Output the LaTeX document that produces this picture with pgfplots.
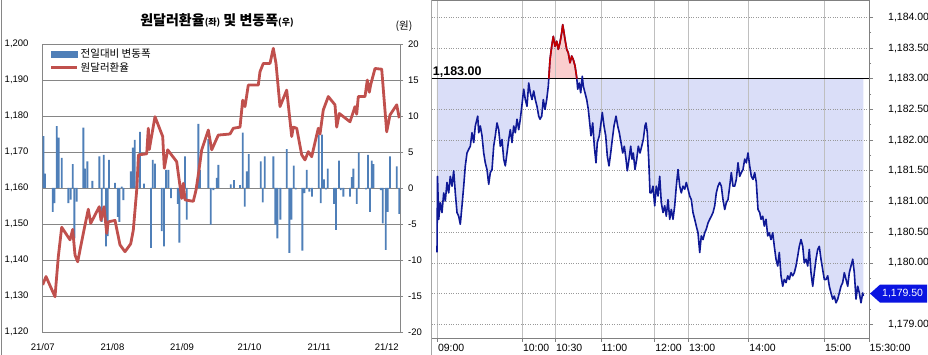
\documentclass[border=0pt]{standalone}
\usepackage{fontspec}
\setmainfont{Liberation Sans}
\newfontfamily\kr{Noto Sans CJK KR}
\usepackage{pgfplots}
\pgfplotsset{compat=1.18}
\usepackage{pgfplotstable}
\definecolor{barblue}{RGB}{79,127,184}
\definecolor{redline}{RGB}{192,80,77}
\definecolor{lav}{RGB}{218,222,248}
\definecolor{pinkf}{RGB}{250,206,206}
\definecolor{navy}{RGB}{15,25,150}
\definecolor{redi}{RGB}{195,0,0}
\definecolor{tagblue}{RGB}{10,20,225}
\definecolor{gridg}{RGB}{134,134,134}

% first and last rows are the 1,183.00 reference level (closing the shaded area)
\pgfplotstableread{
x y
436.9 1183
437.0 1180.17
437.5 1181.41
438.7 1180.71
440.3 1180.98
442.0 1180.82
443.7 1181.14
445.3 1181.01
447.0 1181.31
448.7 1181.14
450.3 1181.41
452.0 1181.25
453.7 1181.50
455.3 1181.14
457.0 1180.82
458.7 1180.76
460.3 1180.63
462.0 1180.93
463.7 1181.25
465.3 1181.58
467.0 1181.79
468.7 1181.85
470.3 1181.90
472.0 1182.12
473.7 1181.96
475.3 1182.23
477.7 1182.39
478.7 1182.12
480.3 1182.23
482.0 1182.07
483.7 1181.79
485.3 1181.63
487.0 1181.52
488.7 1181.28
490.3 1181.47
492.0 1181.52
493.7 1181.90
495.3 1182.07
497.0 1182.28
498.7 1182.17
500.3 1181.90
502.0 1182.01
503.7 1181.69
505.3 1181.58
507.0 1181.79
508.7 1182.01
510.3 1182.17
512.0 1181.96
513.7 1182.23
515.3 1182.12
517.0 1182.34
518.7 1182.17
520.3 1182.34
522.0 1182.58
523.7 1182.83
525.3 1182.66
527.0 1182.55
528.7 1182.93
530.3 1182.77
532.0 1182.66
533.7 1182.80
535.3 1182.66
537.0 1182.55
538.7 1182.39
540.0 1182.34
541.7 1182.39
543.3 1182.66
545.0 1182.50
546.7 1182.66
548.3 1182.88
550.0 1183.31
551.7 1183.53
553.3 1183.69
555.0 1183.53
556.7 1183.61
558.3 1183.48
560.0 1183.59
561.7 1183.75
562.7 1183.88
564.0 1183.75
565.0 1183.64
566.7 1183.48
568.3 1183.42
570.0 1183.26
571.7 1183.37
573.3 1183.31
575.0 1183.21
576.7 1183.02
577.7 1182.83
579.3 1182.93
580.7 1182.77
582.3 1183.04
583.3 1182.88
585.0 1182.77
586.7 1182.66
588.3 1182.50
590.0 1182.23
591.0 1182.07
592.7 1182.28
594.3 1181.90
596.0 1181.63
597.3 1181.96
599.3 1182.07
601.0 1182.28
602.3 1182.45
604.0 1182.23
605.7 1182.07
607.3 1181.74
609.0 1181.58
610.7 1181.79
612.3 1182.01
614.0 1182.23
616.0 1182.39
617.7 1182.23
619.3 1182.12
621.0 1181.96
622.7 1181.79
624.3 1181.90
626.0 1181.69
627.3 1181.50
629.0 1181.69
630.7 1181.90
632.0 1181.69
633.3 1181.79
635.0 1181.52
636.7 1181.69
638.3 1181.90
640.0 1181.79
641.7 1181.90
643.3 1182.01
645.0 1182.23
646.0 1182.28
647.3 1182.12
648.7 1181.69
650.0 1181.14
651.3 1181.14
653.0 1181.25
654.7 1180.93
656.3 1181.25
658.0 1181.09
659.7 1181.41
661.3 1180.98
663.0 1180.82
664.7 1180.93
666.3 1180.76
668.0 1181.03
669.7 1180.71
671.3 1180.87
673.0 1180.71
674.7 1180.93
676.3 1181.25
678.0 1181.52
679.7 1181.25
681.3 1181.14
683.0 1181.25
684.7 1181.20
686.3 1181.31
688.0 1181.20
689.7 1181.09
691.3 1181.03
693.0 1180.82
694.7 1180.71
696.3 1180.60
698.0 1180.49
699.7 1180.17
701.3 1180.44
703.0 1180.38
704.7 1180.49
706.3 1180.55
708.0 1180.65
709.7 1180.71
711.3 1180.76
713.0 1180.82
714.7 1180.93
716.3 1181.14
718.0 1181.25
719.7 1181.31
721.3 1181.25
723.0 1181.03
724.7 1180.87
726.3 1180.98
728.0 1181.03
729.7 1181.25
731.3 1181.47
733.0 1181.25
734.7 1181.25
736.3 1181.36
738.0 1181.63
739.7 1181.41
741.3 1181.47
743.0 1181.52
744.7 1181.69
746.3 1181.63
748.0 1181.79
749.7 1181.58
751.3 1181.41
753.0 1181.36
754.7 1181.47
756.3 1181.31
758.0 1180.87
759.7 1180.82
761.0 1180.71
762.7 1180.76
764.3 1180.60
766.0 1180.71
767.7 1180.44
769.3 1180.49
771.0 1180.38
772.7 1180.49
774.3 1180.27
776.0 1180.06
777.7 1179.95
779.3 1180.17
781.0 1179.79
782.7 1179.62
784.3 1179.73
786.0 1179.68
787.7 1179.79
789.3 1179.73
791.0 1179.84
792.7 1179.79
794.3 1179.84
796.0 1179.95
797.7 1180.11
799.3 1180.27
801.0 1180.38
802.7 1180.27
804.3 1180.00
806.0 1180.06
807.7 1179.95
809.3 1180.22
811.0 1179.84
812.7 1179.62
814.3 1179.84
816.0 1180.06
817.7 1180.22
819.3 1180.27
821.0 1180.06
822.7 1179.89
824.3 1179.73
826.0 1179.73
827.7 1179.79
829.3 1179.62
831.0 1179.51
832.7 1179.41
834.3 1179.46
836.0 1179.35
837.7 1179.41
839.3 1179.51
841.0 1179.62
842.7 1179.68
844.3 1179.84
846.0 1179.73
847.7 1179.62
849.3 1179.84
851.0 1179.95
852.7 1180.06
854.3 1179.84
856.0 1179.41
857.7 1179.62
859.3 1179.51
861.0 1179.35
862.7 1179.51
863.3 1179.46
863.4 1183
}\intraday

\begin{document}
\begin{tikzpicture}
\draw[gridg, line width=0.8pt] (1.5pt,0pt) -- (1.5pt,355pt);

% ---------- left panel: bars (right axis) ----------
\begin{axis}[
  at={(42.7pt,23pt)}, anchor=south west, scale only axis,
  width=357.3pt, height=288pt,
  xmin=42.7, xmax=400, ymin=-20, ymax=20,
  axis line style={gridg, line width=0.8pt},
  ytick={-20,-15,...,20},
  yticklabels={-20,-15,-10,-5,0,5,10,15,20},
  ytick pos=right, yticklabel pos=right,
  ytick style={gridg, line width=0.8pt}, tick align=outside, major tick length=3pt,
  yticklabel style={font=\fontsize{9.5}{10}\selectfont, anchor=west, inner sep=0pt, xshift=5pt},
  xtick={42.7,112.4,182.1,249.5,319.2,386.7},
  xticklabels={21/07,21/08,21/09,21/10,21/11,21/12},
  xtick pos=bottom, xtick style={draw=none},
  xticklabel style={font=\fontsize{9.5}{10}\selectfont, inner sep=0pt, yshift=-8pt},
  ymajorgrids, major grid style={gridg, line width=0.8pt},
]
\addplot[ybar, bar width=1.9pt, fill=barblue, draw=none] coordinates {
(43.3,7.2) (45.0,2.0) (52.7,-3.3) (54.3,-2.1) (56.7,8.6) (58.7,7.0) (61.7,4.2)
(68.3,-2.1) (70.7,-1.6) (72.7,3.3) (74.3,-7.0) (76.7,-1.9) (83.3,8.4) (85.0,2.7)
(87.3,3.7) (92.3,1.0) (99.3,4.4) (101.7,-4.7) (103.7,4.6) (106.0,-8.1) (107.7,-6.7)
(109.0,3.9) (115.0,0.7) (117.7,-4.0) (119.3,-4.7) (121.7,0.2) (123.3,-1.7) (130.7,2.3)
(132.7,5.6) (134.7,6.7) (137.3,1.2) (140.0,7.8) (144.0,0.6) (151.0,-8.3) (152.7,3.9)
(155.0,3.4) (161.7,-6.0) (164.0,-8.1) (166.0,2.5) (168.3,2.5) (171.0,-1.4) (177.7,-2.2)
(179.3,-7.6) (185.0,4.4) (186.7,-4.4) (198.3,8.9) (200.0,2.5) (208.3,6.8) (210.7,-5.1)
(213.3,-0.3) (216.7,1.4) (218.3,3.2) (230.7,0.5) (234.0,1.1) (240.0,0.4) (242.7,7.7)
(244.7,-2.6) (246.7,2.3) (248.7,4.7) (260.7,3.7) (262.7,-2.0) (264.7,4.4) (273.3,4.4)
(275.3,-5.1) (277.3,-7.0) (280.3,-4.4) (286.7,5.4) (289.3,-9.0) (291.3,-4.4) (293.7,3.1)
(295.7,-0.2) (302.3,-8.7) (304.3,-0.7) (306.7,2.5) (309.3,-0.5) (312.0,-1.2) (318.7,7.4)
(320.7,-2.1) (322.0,7.4) (324.0,1.2) (326.0,-0.2) (327.7,2.7) (334.0,-2.2) (336.0,-5.8)
(339.0,3.8) (340.7,-0.3) (343.3,-1.2) (350.0,-1.2) (351.7,1.5) (353.3,2.7) (356.7,-2.2)
(358.7,4.9) (366.0,-0.2) (368.0,4.6) (370.0,-3.3) (371.7,3.8) (373.3,3.3) (380.7,-0.3)
(382.7,-4.9) (385.7,-8.6) (387.7,-3.3) (390.0,4.4) (396.7,3.0) (399.3,-3.6)
};
\end{axis}

% ---------- left panel: exchange rate (left axis) ----------
\begin{axis}[
  at={(42.7pt,23pt)}, anchor=south west, scale only axis,
  width=357.3pt, height=288pt,
  xmin=42.7, xmax=400, ymin=1120, ymax=1200,
  axis line style={draw=none},
  xtick=\empty,
  ytick={1120,1130,...,1200},
  yticklabels={{1,120},{1,130},{1,140},{1,150},{1,160},{1,170},{1,180},{1,190},{1,200}},
  ytick pos=left, ytick style={draw=none},
  yticklabel style={font=\fontsize{9.5}{10}\selectfont, anchor=east, inner sep=0pt, xshift=-14pt},
  legend style={at={(0,1)}, anchor=north west, xshift=6pt, yshift=-2pt, draw=none, fill=none,
    font=\kr\fontsize{10.5}{11}\selectfont, row sep=-1pt, inner sep=1pt},
  legend cell align=left,
]
\addlegendimage{legend image code/.code={\fill[barblue] (0pt,-3.3pt) rectangle (26pt,3.3pt);}}
\addlegendentry{전일대비 변동폭}
\addplot[redline, line width=2.8pt, line join=round,
  legend image code/.code={\draw[redline, line width=2.8pt] (0pt,0pt) -- (26pt,0pt);}] coordinates {
(42.7,1133.1) (46,1135.4) (55,1129.8) (58.3,1140.9) (61.7,1149.1) (70,1145.6) (72.7,1148.5)
(75,1141.4) (77.7,1139.5) (83.3,1147.4) (88.3,1154.1) (90.7,1150.2) (99.3,1154.8) (101,1151)
(104,1154.8) (106.7,1147.4) (108.3,1150.6) (115,1151) (120,1144.2) (125,1142.3) (130.7,1144.5)
(133.3,1148.3) (136.7,1159.4) (138.5,1169.2) (146.7,1169.5) (148.3,1176.6) (149.3,1170.7)
(150.7,1173) (155,1179.8) (162.7,1174.3) (164.3,1165.5) (167.7,1170.6) (176.7,1167.3)
(178.3,1164) (181.7,1157.1) (183.3,1161.3) (185,1156.7) (193.3,1156.3) (196,1159.4)
(199,1165) (201.7,1170.6) (208.3,1176.1) (211.7,1170.6) (218.3,1174.7) (230,1175)
(233.3,1176.6) (240,1176.9) (242.7,1184.4) (245,1182.6) (248.3,1188.6) (258.3,1188.6)
(260,1192.3) (263.3,1194.6) (270,1194.6) (273.3,1198.8) (276,1194.6) (280,1182.6)
(286.7,1187.2) (291.7,1174.3) (293.3,1176.9) (296.7,1176.6) (301.7,1169.2) (305,1167.8)
(308.3,1170.1) (311.7,1168.7) (318.3,1176.6) (320,1175) (323.3,1181.7) (328.3,1185.4)
(335,1183.1) (336.7,1176.9) (339.3,1180.7) (350,1178.4) (355,1182.6) (356.7,1180.5)
(358.3,1185.4) (365,1185.4) (367.3,1190) (369.3,1186.6) (370.7,1188.7) (375,1193.2)
(381.7,1193) (386.7,1175.6) (390,1180.3) (396.7,1183.1) (399.3,1179.4)
};
\addlegendentry{원달러환율}
\end{axis}

\node[font=\kr\bfseries\fontsize{14}{14}\selectfont] at (217pt,335pt)
  {원달러환율{\fontsize{9}{9}\selectfont(좌)} 및 변동폭{\fontsize{9}{9}\selectfont(우)}};
\node[font=\kr\fontsize{10.5}{11}\selectfont] at (404pt,329pt) {(원)};

% ---------- right panel ----------
\draw[gray!70, line width=0.8pt] (431.7pt,0pt) -- (431.7pt,355pt);
\begin{axis}[
  set layers,
  at={(431.7pt,17pt)}, anchor=south west, scale only axis,
  width=437.3pt, height=338pt,
  xmin=431.7, xmax=869, ymin=1178.777, ymax=1184.282,
  axis line style={gray, line width=0.8pt},
  ytick={1179,1179.5,1180,1180.5,1181,1181.5,1182,1182.5,1183,1183.5,1184},
  yticklabels={{1,179.00},{},{1,180.00},{1,180.50},{1,181.00},{1,181.50},{1,182.00},{1,182.50},{1,183.00},{1,183.50},{1,184.00}},
  minor ytick={1179.25,1179.75,1180.25,1180.75,1181.25,1181.75,1182.25,1182.75,1183.25,1183.75},
  ytick pos=right, yticklabel pos=right,
  tick align=outside, major tick length=4pt, minor tick length=2pt,
  tick style={gray, line width=0.8pt},
  yticklabel style={font=\fontsize{10.5}{11}\selectfont, anchor=west, inner sep=0pt, xshift=15pt},
  xtick={437.3,522.3,555.3,601,654.7,688.3,748.7,824.3,869},
  xticklabels={09:00,10:00,10:30,11:00,12:00,13:00,14:00,15:00,15:30:00},
  xtick pos=bottom,
  xticklabel style={font=\fontsize{10.5}{11}\selectfont, anchor=north west, inner sep=0pt, xshift=0.5pt, yshift=-2pt},
  xmajorgrids, major x grid style={gray!50, line width=1pt},
  ymajorgrids, major y grid style={gray!80, dotted, line width=0.7pt},
]
\addplot[fill=lav, draw=none, on layer=axis background, forget plot] table[x=x, y=y] {\intraday};
\addplot[fill=pinkf, draw=none, on layer=axis background, forget plot] coordinates {
(548.8,1183) (550.0,1183.31) (551.7,1183.53) (553.3,1183.69) (555.0,1183.53) (556.7,1183.61)
(558.3,1183.48) (560.0,1183.59) (561.7,1183.75) (562.7,1183.88) (564.0,1183.75) (565.0,1183.64)
(566.7,1183.48) (568.3,1183.42) (570.0,1183.26) (571.7,1183.37) (573.3,1183.31) (575.0,1183.21)
(576.7,1183.02) (576.8,1183)};
\addplot[black, line width=0.9pt, forget plot] coordinates {(431.7,1183) (869,1183)};
\addplot[navy, line width=1.6pt, line join=round, forget plot,
  skip coords between index={0}{1}, skip coords between index={264}{265}] table[x=x, y=y] {\intraday};
\addplot[redi, line width=1.6pt, line join=round, forget plot] coordinates {
(548.8,1183) (550.0,1183.31) (551.7,1183.53) (553.3,1183.69) (555.0,1183.53) (556.7,1183.61)
(558.3,1183.48) (560.0,1183.59) (561.7,1183.75) (562.7,1183.88) (564.0,1183.75) (565.0,1183.64)
(566.7,1183.48) (568.3,1183.42) (570.0,1183.26) (571.7,1183.37) (573.3,1183.31) (575.0,1183.21)
(576.7,1183.02) (576.8,1183)};
\coordinate (lvl) at (axis cs:431.7,1183);
\coordinate (tag) at (axis cs:869,1179.5);
\end{axis}
\node[anchor=south west, font=\bfseries\fontsize{12.5}{12.5}\selectfont, inner sep=1pt] at (lvl) {1,183.00};
\fill[tagblue] ([xshift=1pt]tag) -- ++(10pt,9pt) -- ++(47pt,0pt) -- ++(0pt,-18pt) -- ++(-47pt,0pt) -- cycle;
\node[white, anchor=west, inner sep=0pt, font=\fontsize{10.5}{11}\selectfont] at ([xshift=13pt]tag) {1,179.50};
\pgfresetboundingbox
\useasboundingbox (0pt,0pt) rectangle (928pt,355pt);
\end{tikzpicture}
\end{document}
